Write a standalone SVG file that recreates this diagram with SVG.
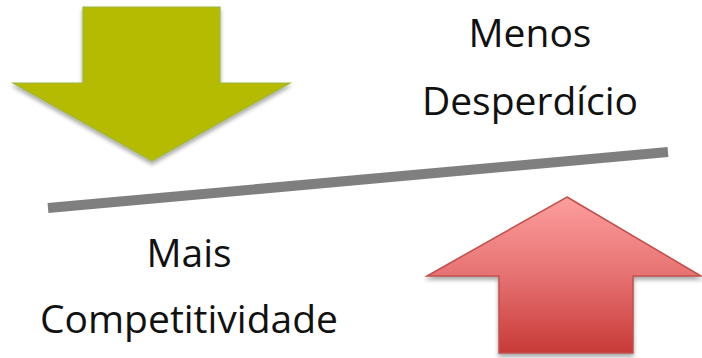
<svg xmlns="http://www.w3.org/2000/svg" width="702" height="358" viewBox="0 0 702 358">
<defs>
<linearGradient id="redGrad" x1="0" y1="0" x2="0" y2="1">
<stop offset="0" stop-color="#fd9e9e"/>
<stop offset="0.5" stop-color="#e77272"/>
<stop offset="1" stop-color="#c83a38"/>
</linearGradient>
<filter id="shadow" x="-10%" y="-10%" width="120%" height="125%">
<feGaussianBlur in="SourceAlpha" stdDeviation="2"/>
<feOffset dx="0" dy="3" result="b"/>
<feComponentTransfer><feFuncA type="linear" slope="0.35"/></feComponentTransfer>
<feMerge><feMergeNode/><feMergeNode in="SourceGraphic"/></feMerge>
</filter>
<style>
.lbl{font-family:"Open Sans","Noto Sans",sans-serif;font-size:39px;fill:#111;text-anchor:middle}
</style>
</defs>
<rect width="702" height="358" fill="#ffffff"/>
<g id="green-arrow" filter="url(#shadow)">
<polygon points="83,7 220,7 220,83 290,83 152,161 13,83 83,83" fill="#b5bb00" stroke="#9fb640" stroke-width="1.2" stroke-linejoin="miter"/>
</g>
<g id="red-arrow" filter="url(#shadow)">
<polygon points="567,197 701,276 633,276 633,353 499,353 499,276 427,276" fill="url(#redGrad)" stroke="#c0504d" stroke-width="1.5"/>
</g>
<g id="connectors">
<line x1="48" y1="208" x2="668" y2="152" stroke="#7f7f7f" stroke-width="10"/>
</g>
<g id="menos-desperdicio">
<text class="lbl" x="530" y="47">Menos</text>
<text class="lbl" x="530" y="115">Desperdício</text>
</g>
<g id="mais-competitividade">
<text class="lbl" x="189" y="267">Mais</text>
<text class="lbl" x="189" y="333">Competitividade</text>
</g>
</svg>
